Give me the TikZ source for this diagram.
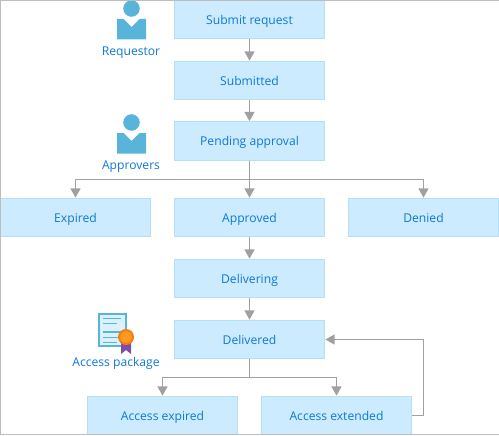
\documentclass[tikz,border=0pt]{standalone}
\usepackage{fontspec}
\setmainfont{Open Sans}
\usetikzlibrary{arrows.meta}
\definecolor{boxfill}{HTML}{CCEBFF}
\definecolor{boxline}{HTML}{B5DFF2}
\definecolor{txt}{HTML}{0F78D4}
\definecolor{arrowc}{HTML}{A0A0A0}
\definecolor{iconblue}{HTML}{59B4D9}
\definecolor{frameg}{HTML}{BDBDBD}
\definecolor{ribbon}{HTML}{7B4FA8}
\definecolor{medal}{HTML}{F57C10}
\definecolor{medalin}{HTML}{FF9A1F}
\tikzset{
  x=0.75pt,y=-0.75pt,
  state/.style={draw=boxline,fill=boxfill,line width=0.75pt,minimum width=113pt,minimum height=29pt,inner sep=0pt,text=txt,text height=8pt,text depth=1pt,font=\fontsize{9.1pt}{11pt}\selectfont},
  lbl/.style={text=txt,inner sep=0pt,text height=8pt,text depth=1pt,font=\fontsize{9.1pt}{11pt}\selectfont},
  flow/.style={draw=arrowc,line width=1.2pt,-{Triangle[length=7pt,width=7.5pt]}}
}
\newcommand{\personicon}[2]{%
  \fill[iconblue] (#1-14.5,#2+19) -- (#1-8,#2+19) -- (#1,#2+27) -- (#1+8,#2+19) -- (#1+14.5,#2+19) -- (#1+14.5,#2+39.5) -- (#1-14.5,#2+39.5) -- cycle;
  \fill[iconblue] (#1,#2+8.5) circle (6.2pt);
}
\begin{document}
\begin{tikzpicture}
\useasboundingbox (0,0) rectangle (499,435);
\node[state] (submit) at (249.5,19.5) {Submit request};
\node[state] (submitted) at (249.5,80.5) {Submitted};
\node[state] (pending) at (249.5,141) {Pending approval};
\node[state] (expired) at (75.5,217.5) {Expired};
\node[state] (approved) at (249.5,217.5) {Approved};
\node[state] (denied) at (423.5,217.5) {Denied};
\node[state] (delivering) at (249.5,278.5) {Delivering};
\node[state] (delivered) at (249.5,339.5) {Delivered};
\node[state] (accexp) at (162.5,415.5) {Access expired};
\node[state] (accext) at (336.5,415.5) {Access extended};
\coordinate (split) at (249.5,179.5);
\coordinate (split2) at (249.5,377.5);
\coordinate (turn) at (423.5,415.5);
\draw[flow] (submit) -- (submitted);
\draw[flow] (submitted) -- (pending);
\draw[flow] (pending) -- (approved);
\draw[flow] (pending.south) -- (split) -| (expired.north);
\draw[flow] (pending.south) -- (split) -| (denied.north);
\draw[flow] (approved) -- (delivering);
\draw[flow] (delivering) -- (delivered);
\draw[flow] (delivered.south) -- (split2) -| (accexp.north);
\draw[flow] (delivered.south) -- (split2) -| (accext.north);
\draw[flow] (accext.east) -- (turn) |- (delivered.east);
\personicon{131.5}{0}
\node[lbl] (requestor) at (131,50.5) {Requestor};
\personicon{131.5}{114}
\node[lbl] (approvers) at (131,164.5) {Approvers};
% certificate
\draw[iconblue,fill=boxfill!70,line width=1.2pt] (98.8,313.8) rectangle (126.2,346.2);
\foreach \yy/\xe in {318.5/121,323.5/117,332/121,337.5/121,342.5/117}{
  \draw[iconblue,line width=1.2pt] (103,\yy) -- (\xe,\yy);
}
\fill[ribbon] (121,340) -- (131,340) -- (131,354) -- (126,350) -- (121,354) -- cycle;
\fill[medal] (126,337) circle (6pt);
\fill[medalin] (126,337) circle (4.3pt);
\node[lbl] (package) at (116,362) {Access package};
\draw[frameg,line width=0.75pt] (0.5,435) -- (0.5,0.5) -- (499,0.5);
\draw[frameg,line width=0.75pt] (0,434) -- (499,434);
\end{tikzpicture}
\end{document}
